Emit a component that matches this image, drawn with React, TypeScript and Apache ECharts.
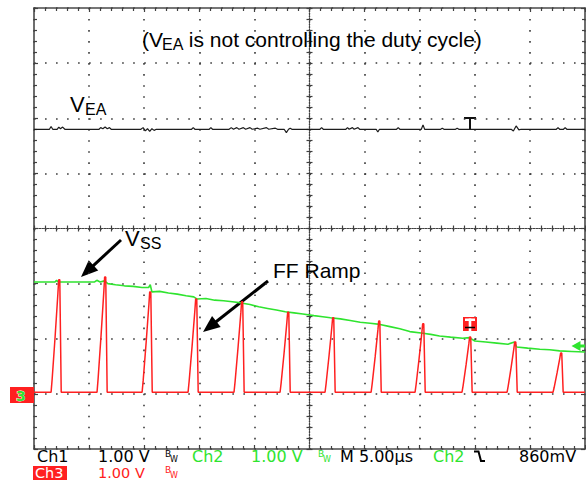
import React, { useEffect, useRef } from "react";
import * as echarts from "echarts";

// Time axis: µs (5 µs/div, 10 div), volts axis: 1 V/div, 8 div
const xMin = -25;
const xMax = 25;
const xStep = 5;
const yMin = -4;
const yMax = 4;
const yStep = 1;

// Ch1 (black) V_EA trace [µs, V]
const veaTrace: [number, number][] = [
  [-25, 1.8], [-23.6, 1.8], [-23.45, 1.85], [-23.3, 1.8], [-22.9, 1.8], [-22.75, 1.84], [-22.6, 1.81],
  [-22.4, 1.84], [-22.2, 1.8], [-19.1, 1.8], [-18.95, 1.83], [-18.75, 1.81], [-18.55, 1.84], [-18.35, 1.81],
  [-18.15, 1.83], [-18.0, 1.8], [-15.3, 1.8], [-15.1, 1.83], [-14.9, 1.77], [-14.7, 1.81], [-14.5, 1.76],
  [-14.3, 1.81], [-14.1, 1.78], [-13.9, 1.8], [-10.7, 1.8], [-10.55, 1.83], [-10.4, 1.8], [-9.1, 1.8],
  [-8.95, 1.83], [-8.8, 1.8], [-7.3, 1.8], [-7.1, 1.83], [-6.9, 1.8], [-6.6, 1.83], [-6.4, 1.8], [-6.0, 1.83],
  [-5.8, 1.8], [-5.4, 1.83], [-5.2, 1.8], [-4.7, 1.82], [-4.5, 1.8], [-3.9, 1.83], [-3.7, 1.8], [-3.1, 1.82],
  [-2.9, 1.8], [-2.3, 1.8], [-2.1, 1.74], [-1.9, 1.8], [-1.75, 1.82], [-1.6, 1.8], [0.95, 1.8], [1.1, 1.83],
  [1.25, 1.8], [3.3, 1.8], [3.45, 1.83], [3.6, 1.8], [3.9, 1.83], [4.05, 1.8], [4.4, 1.83], [4.55, 1.8],
  [6.05, 1.8], [6.2, 1.75], [6.35, 1.8], [7.9, 1.8], [8.05, 1.83], [8.2, 1.8], [10.15, 1.8], [10.3, 1.88],
  [10.45, 1.8], [11.9, 1.8], [12.05, 1.82], [12.2, 1.8], [13.25, 1.8], [13.4, 1.82], [13.55, 1.8],
  [18.3, 1.8], [18.5, 1.77], [18.75, 1.86], [19.0, 1.79], [19.2, 1.8], [22.4, 1.8], [22.55, 1.83],
  [22.7, 1.8], [23.05, 1.8], [23.2, 1.83], [23.35, 1.8], [25, 1.8],
];

// Ch2 (green) V_SS trace [µs, V]
const vssTrace: [number, number][] = [
  [-25, -0.97], [-23.1, -0.97], [-22.95, -0.94], [-22.8, -0.97], [-19.5, -0.97], [-19.3, -0.94],
  [-19.0, -0.97], [-18.6, -0.95], [-18.3, -1.0], [-17.6, -1.02], [-16.8, -1.04], [-16.0, -1.05],
  [-15.2, -1.07], [-14.6, -1.07], [-14.45, -1.02], [-14.3, -1.15], [-13.6, -1.14], [-12.8, -1.17],
  [-12.0, -1.19], [-11.2, -1.22], [-10.5, -1.24], [-10.2, -1.28], [-9.4, -1.27], [-8.6, -1.3],
  [-7.8, -1.31], [-7.0, -1.33], [-6.2, -1.35], [-5.4, -1.38], [-4.6, -1.42], [-3.8, -1.45], [-3.0, -1.48],
  [-2.2, -1.51], [-1.4, -1.53], [-0.6, -1.55], [0.4, -1.58], [1.2, -1.6], [1.9, -1.62], [2.8, -1.64],
  [3.7, -1.67], [4.6, -1.7], [5.5, -1.72], [6.4, -1.74], [7.3, -1.78], [8.2, -1.82], [9.1, -1.87],
  [10.3, -1.9], [11.0, -1.92], [11.8, -1.95], [12.8, -1.97], [13.9, -1.99], [14.5, -1.98], [15.0, -2.04],
  [16.0, -2.06], [17.0, -2.08], [18.0, -2.1], [18.6, -2.06], [18.8, -2.15], [19.8, -2.17], [20.9, -2.19],
  [21.8, -2.2], [22.7, -2.22], [23.8, -2.23], [25, -2.24],
];

// Ch3 (red) FF ramp: pulse peak times [µs], peak volts, baseline
const rampPeakTimes = [-22.73, -18.56, -14.47, -10.3, -6.13, -1.95, 2.13, 6.31, 10.3, 14.56, 18.65, 22.82];
const rampPeakVolts = [-0.93, -0.88, -1.15, -1.28, -1.33, -1.52, -1.62, -1.68, -1.73, -1.97, -2.06, -2.26];
const rampBaseline = -2.97;
// pulse shape: [time offset from peak (µs), fraction of pulse height]
const rampPulseShape: [number, number][] = [
  [-0.72, 0], [-0.62, 0.12], [-0.35, 0.5], [-0.1, 0.88], [-0.03, 1], [0.07, 1], [0.2, 0],
];

const GREEN = "#2fe42f";
const RED = "#ff2020";

function buildRamp(): number[][] {
  const pts: number[][] = [[xMin, rampBaseline]];
  rampPeakTimes.forEach((t, i) => {
    const h = rampPeakVolts[i] - rampBaseline;
    rampPulseShape.forEach(([dt, f]) => pts.push([t + dt, rampBaseline + f * h]));
  });
  pts.push([xMax, rampBaseline]);
  return pts;
}

function arrow(x1: number, y1: number, x2: number, y2: number, headLen = 17, headW = 7) {
  const dx = x2 - x1;
  const dy = y2 - y1;
  const L = Math.hypot(dx, dy);
  const ux = dx / L;
  const uy = dy / L;
  const bx = x2 - ux * headLen;
  const by = y2 - uy * headLen;
  const px = -uy;
  const py = ux;
  return [
    { type: "line", shape: { x1, y1, x2: bx + ux * 2, y2: by + uy * 2 }, style: { stroke: "#000", lineWidth: 3 } },
    {
      type: "polygon",
      shape: { points: [[x2, y2], [bx + px * headW, by + py * headW], [bx - px * headW, by - py * headW]] },
      style: { fill: "#000" },
    },
  ];
}

const gridLineStyle = { color: "#3a3a3a", width: 1.6, type: [1.6, 9.42] as number[] };
const tickStyle = { color: "#404040", width: 1.2 };

function borderAxis(pos: string, isX: boolean, withSplit: boolean) {
  return {
    type: "value",
    position: pos,
    min: isX ? xMin : yMin,
    max: isX ? xMax : yMax,
    interval: isX ? xStep : yStep,
    axisLine: { show: true, onZero: false, lineStyle: { color: "#4a4a4a", width: 1.6 } },
    axisTick: { show: true, inside: true, length: 4, lineStyle: tickStyle },
    minorTick: { show: true, splitNumber: 5, length: 3, lineStyle: tickStyle },
    axisLabel: { show: false },
    splitLine: { show: withSplit, lineStyle: gridLineStyle },
    minorSplitLine: { show: false },
  };
}

function centerAxis(pos: string, isX: boolean, inside: boolean) {
  return {
    type: "value",
    position: pos,
    min: isX ? xMin : yMin,
    max: isX ? xMax : yMax,
    interval: isX ? xStep : yStep,
    axisLine: {
      show: true,
      onZero: true,
      onZeroAxisIndex: 0,
      lineStyle: { color: "#404040", width: 1.2, type: [1.2, 1.5] },
    },
    axisTick: { show: true, inside, length: 3, lineStyle: tickStyle },
    minorTick: { show: true, splitNumber: 5, length: 3, lineStyle: tickStyle },
    axisLabel: { show: false },
    splitLine: { show: false },
  };
}

const SANS = "Liberation Sans";
const MONO = "DejaVu Sans";

function txt(text: string, x: number, y: number, size: number, fill: string, family = SANS, extra: any = {}) {
  return {
    type: "text",
    x,
    y,
    z: 30,
    style: { text, fontSize: size, fontFamily: family, fill, align: "left", verticalAlign: "middle", ...extra },
  };
}

function bw(x: number, y: number, fill: string) {
  return [
    { type: "text", x, y, style: { text: "B", fontSize: 9, fontFamily: MONO, fill, verticalAlign: "top", lineHeight: 8 } },
    { type: "text", x: x + 5, y: y + 6, style: { text: "W", fontSize: 8, fontFamily: MONO, fill, verticalAlign: "top", lineHeight: 7 } },
  ];
}

const row1 = { lineHeight: 13 };
const row2 = { lineHeight: 12 };

export default function App() {
  const ref = useRef<HTMLDivElement>(null);
  useEffect(() => {
    const chart = echarts.init(ref.current!, null, { renderer: "svg" });
    const option: any = {
      animation: false,
      backgroundColor: "#fff",
      grid: { left: 34, top: 8, width: 551, height: 441, containLabel: false },
      xAxis: [
        borderAxis("bottom", true, true),
        borderAxis("top", true, false),
        centerAxis("bottom", true, true),
        centerAxis("bottom", true, false),
      ],
      yAxis: [
        borderAxis("left", false, true),
        borderAxis("right", false, false),
        centerAxis("left", false, true),
        centerAxis("left", false, false),
      ],
      series: [
        {
          name: "VEA",
          type: "line",
          xAxisIndex: 0,
          yAxisIndex: 0,
          data: veaTrace,
          showSymbol: false,
          lineStyle: { color: "#1c1c1c", width: 1.2 },
          z: 5,
        },
        {
          name: "VSS",
          type: "line",
          xAxisIndex: 0,
          yAxisIndex: 0,
          data: vssTrace,
          showSymbol: false,
          lineStyle: { color: GREEN, width: 1.6 },
          z: 5,
        },
        {
          name: "FF Ramp",
          type: "line",
          xAxisIndex: 0,
          yAxisIndex: 0,
          data: buildRamp(),
          showSymbol: false,
          lineStyle: { color: RED, width: 1.5 },
          z: 6,
        },
      ],
      graphic: [
        // annotations
        txt("(V", 142, 39, 21, "#000"),
        txt("EA", 162, 44, 16, "#000"),
        txt(" is not controlling the duty cycle)", 183, 39, 21, "#000"),
        txt("V", 70, 104, 22, "#000"),
        txt("EA", 85, 109, 16, "#000"),
        txt("V", 125, 238, 22, "#000"),
        txt("SS", 140, 243, 16, "#000"),
        txt("FF Ramp", 273, 270, 21, "#000"),
        ...arrow(121, 240, 81, 277),
        ...arrow(268, 281, 203, 332),
        // Ch1 trigger T marker
        { type: "line", shape: { x1: 464, y1: 118, x2: 476, y2: 118 }, style: { stroke: "#111", lineWidth: 2 } },
        { type: "line", shape: { x1: 470, y1: 118, x2: 470, y2: 129 }, style: { stroke: "#111", lineWidth: 2 } },
        // Ch3 T marker box
        { type: "rect", shape: { x: 463, y: 317, width: 14, height: 14 }, style: { fill: RED }, z: 20 },
        { type: "rect", shape: { x: 465, y: 318.5, width: 10, height: 2.5 }, style: { fill: "#fff" }, z: 21 },
        { type: "rect", shape: { x: 468.7, y: 318.5, width: 2.6, height: 12.5 }, style: { fill: "#fff" }, z: 21 },
        { type: "line", shape: { x1: 465, y1: 327.5, x2: 475, y2: 327.5 }, style: { stroke: "#000", lineWidth: 1.5 }, z: 22 },
        // Ch2 level arrow at right edge
        { type: "polygon", shape: { points: [[571.5, 346], [580.5, 341], [580.5, 351]] }, style: { fill: GREEN }, z: 20 },
        { type: "rect", shape: { x: 580, y: 344.5, width: 5, height: 3 }, style: { fill: GREEN }, z: 20 },
        // Ch3 ground marker at left
        { type: "rect", shape: { x: 10, y: 387, width: 24, height: 16 }, style: { fill: RED }, z: 20 },
        txt("3", 16, 395.5, 14, GREEN, MONO, { fontWeight: "bold", stroke: "#fff", lineWidth: 0.8, lineHeight: 14 }),
        // status row 1
        txt("Ch1", 37, 456, 16, "#000", MONO, row1),
        txt("1.00 V", 98, 456, 16, "#000", MONO, row1),
        ...bw(165, 450, "#000"),
        txt("Ch2", 192, 456, 16, GREEN, MONO, row1),
        txt("1.00 V", 251, 456, 16, GREEN, MONO, row1),
        ...bw(318, 450, GREEN),
        txt("M 5.00µs", 340, 456, 16, "#000", MONO, row1),
        txt("Ch2", 433, 456, 16, GREEN, MONO, row1),
        {
          type: "polyline",
          shape: { points: [[474, 451.5], [478.5, 451.5], [481, 461], [485, 461]] },
          style: { stroke: "#000", lineWidth: 2, fill: null },
        },
        txt("860mV", 519, 456, 16, "#000", MONO, row1),
        // status row 2
        { type: "rect", shape: { x: 33, y: 466, width: 34, height: 14 }, style: { fill: RED }, z: 25 },
        txt("Ch3", 35, 473, 14.5, "#fff", MONO, row2),
        txt("1.00 V", 98, 473, 14.5, RED, MONO, row2),
        ...bw(165, 466, RED),
      ],
    };
    chart.setOption(option);
    return () => chart.dispose();
  }, []);
  return (
    <div
      ref={ref}
      style={{ position: "fixed", left: 0, top: 0, width: 586, height: 481, background: "#fff" }}
    />
  );
}
